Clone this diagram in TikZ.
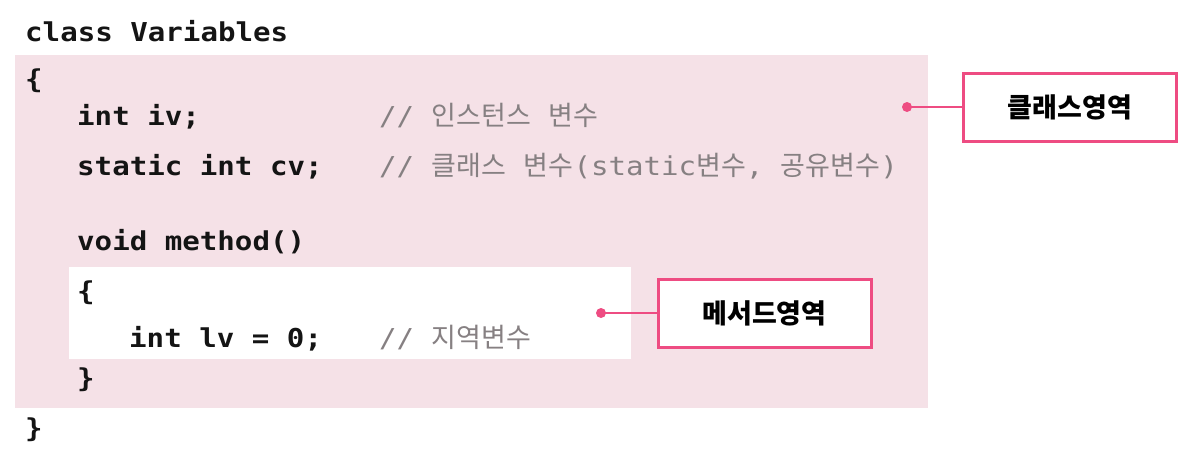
\documentclass[tikz,border=0pt]{standalone}
\usepackage{fontspec}
\usepackage{xcolor}
\usepackage{tikz}
\newfontfamily\codefont{DejaVu Sans Mono}[FakeStretch=1.12]
\newfontfamily\krfont{Noto Sans CJK KR}
\definecolor{classbg}{RGB}{245,225,231}
\definecolor{cmtgray}{RGB}{134,128,130}
\definecolor{accent}{RGB}{238,76,130}
\newcommand{\kr}[1]{{\krfont\fontsize{27}{30}\selectfont #1}}

\begin{document}
\begin{tikzpicture}[x=1pt,y=-1pt]
						\tikzstyle{codeline}=[anchor=base west,inner sep=0pt,text=black!92,font=\codefont\bfseries\fontsize{26}{30}\selectfont]
						\tikzstyle{codecomment}=[anchor=base west,inner sep=0pt,text=cmtgray,font=\codefont\fontsize{26}{30}\selectfont]
						\tikzstyle{areabox}=[draw=accent,line width=3pt,fill=white,minimum width=213pt,minimum height=68pt,font=\krfont\bfseries\fontsize{27}{30}\selectfont]
						\tikzstyle{arealink}=[accent,line width=2pt]
						\useasboundingbox (0,0) rectangle (1190,464);
						\fill[classbg] (15,55) rectangle (928,408);
						\fill[white] (69,267) rectangle (631,359);
						\node[codeline](c0) at (25,41) {class Variables};
						\node[codeline](c1) at (25,88) {\{};
						\node[codeline](c2) at (77,125) {int iv;};
						\node[codeline](c3) at (77,175) {static int cv;};
						\node[codeline](c4) at (77,250) {void method()};
						\node[codeline](c5) at (77,300) {\{};
						\node[codeline](c6) at (129,347) {int lv = 0;};
						\node[codeline](c7) at (77,387) {\}};
						\node[codeline](c8) at (25,437) {\}};
						\node[codecomment](k2) at (379,125) {// \kr{인스턴스} \kr{변수}};
						\node[codecomment](k3) at (379,175) {// \kr{클래스} \kr{변수}(static\kr{변수}, \kr{공유변수})};
						\node[codecomment](k6) at (379,347) {// \kr{지역변수}};
						\node[areabox](b1) at (1070,107) {클래스영역};
						\node[areabox](b2) at (764.5,313) {메서드영역};
						\coordinate (d1) at (907,107);
						\coordinate (d2) at (601,313);
						\fill[accent] (d1) circle (5pt);
						\fill[accent] (d2) circle (5pt);
						\draw[arealink](d1) -- (b1);
						\draw[arealink](d2) -- (b2);
					\end{tikzpicture}
\end{document}
